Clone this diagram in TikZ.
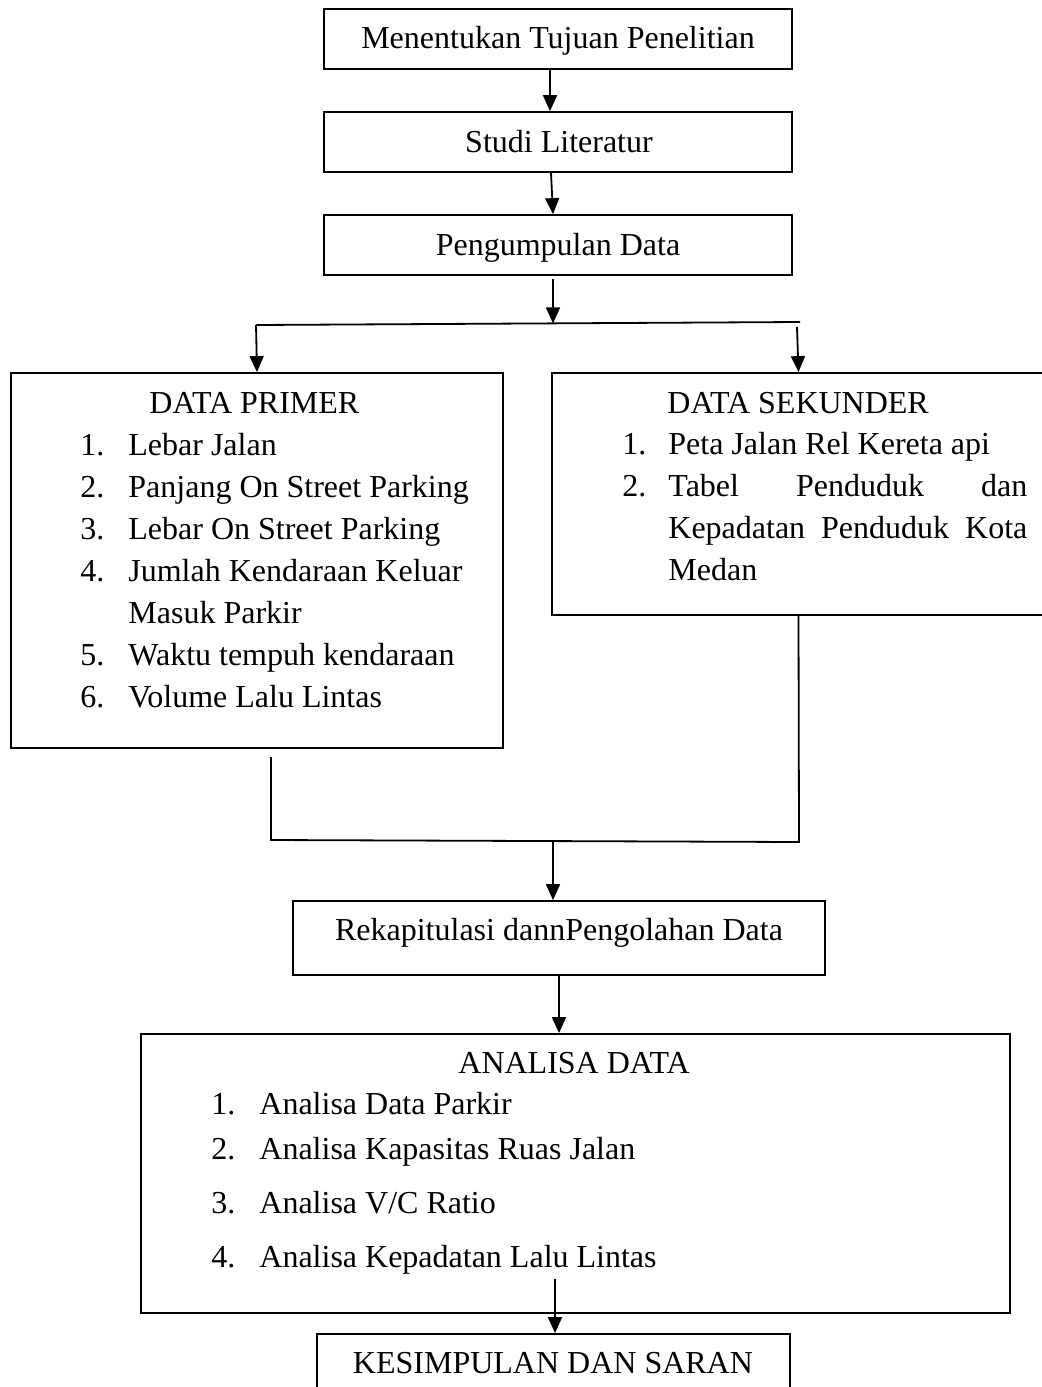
\documentclass[tikz,border=0pt]{standalone}
\usepackage{fontspec}
\setmainfont{Liberation Serif}
\usetikzlibrary{arrows.meta,fit}
\tikzset{
  boxnode/.style={draw=black, line width=0.9pt, inner sep=0pt, rectangle, fit={#1}},
  txt/.style={inner sep=0pt, font=\fontsize{16pt}{21pt}\selectfont},
  conn/.style={draw=black, line width=0.9pt},
  arr/.style={conn, -{Triangle[length=8pt,width=7pt]}}
}
\begin{document}
\begin{tikzpicture}[x=0.5pt,y=-0.5pt]
\useasboundingbox (0,0) rectangle (1041,1387);
% boxes
\node[boxnode={(324,9) (792,69)}] (b1) {};
\node[boxnode={(324,112) (792,172)}] (b2) {};
\node[boxnode={(324,215) (792,275)}] (b3) {};
\node[boxnode={(11,373) (503,748)}] (prim) {};
\node[boxnode={(552,373) (1045,615)}] (sek) {};
\node[boxnode={(293,901) (825,975)}] (rek) {};
\node[boxnode={(141,1034) (1010,1313)}] (ana) {};
\node[boxnode={(317,1334) (790,1400)}] (kes) {};
% texts
\node[txt, anchor=base] (t1) at (558,48) {Menentukan Tujuan Penelitian};
\node[txt, anchor=base] (t2) at (559,152) {Studi Literatur};
\node[txt, anchor=base] (t3) at (558,255) {Pengumpulan Data};
\node[txt, anchor=base west] (pt) at (149,413) {DATA PRIMER};
\node[txt, anchor=base west] (pn1) at (80,455) {1.};
\node[txt, anchor=base west] (pi1) at (128,455) {Lebar Jalan};
\node[txt, anchor=base west] (pn2) at (80,497) {2.};
\node[txt, anchor=base west] (pi2) at (128,497) {Panjang On Street Parking};
\node[txt, anchor=base west] (pn3) at (80,539) {3.};
\node[txt, anchor=base west] (pi3) at (128,539) {Lebar On Street Parking};
\node[txt, anchor=base west] (pn4) at (80,581) {4.};
\node[txt, anchor=base west] (pi4) at (128,581) {Jumlah Kendaraan Keluar};
\node[txt, anchor=base west] (pi4b) at (128,623) {Masuk Parkir};
\node[txt, anchor=base west] (pn5) at (80,665) {5.};
\node[txt, anchor=base west] (pi5) at (128,665) {Waktu tempuh kendaraan};
\node[txt, anchor=base west] (pn6) at (80,707) {6.};
\node[txt, anchor=base west] (pi6) at (128,707) {Volume Lalu Lintas};
\node[txt, anchor=base west] (st) at (667,413) {DATA SEKUNDER};
\node[txt, anchor=base west] (sn1) at (622,454) {1.};
\node[txt, anchor=base west] (si1) at (668,454) {Peta Jalan Rel Kereta api};
\node[txt, anchor=base west] (sn2) at (622,496) {2.};
\node[txt, anchor=base west] (si2) at (668,496) {\makebox[179.5pt][s]{Tabel Penduduk dan}};
\node[txt, anchor=base west] (si2b) at (668,538) {\makebox[179.5pt][s]{Kepadatan Penduduk Kota}};
\node[txt, anchor=base west] (si2c) at (668,580) {Medan};
\node[txt, anchor=base] (tr) at (559,940) {Rekapitulasi dannPengolahan Data};
\node[txt, anchor=base west] (at) at (458,1073) {ANALISA DATA};
\node[txt, anchor=base west] (an1) at (211,1114) {1.};
\node[txt, anchor=base west] (ai1) at (259,1114) {Analisa Data Parkir};
\node[txt, anchor=base west] (an2) at (211,1159) {2.};
\node[txt, anchor=base west] (ai2) at (259,1159) {Analisa Kapasitas Ruas Jalan};
\node[txt, anchor=base west] (an3) at (211,1213) {3.};
\node[txt, anchor=base west] (ai3) at (259,1213) {Analisa V/C Ratio};
\node[txt, anchor=base west] (an4) at (211,1267) {4.};
\node[txt, anchor=base west] (ai4) at (259,1267) {Analisa Kepadatan Lalu Lintas};
\node[txt, anchor=base] (tk) at (553,1373) {KESIMPULAN DAN SARAN};
% connector points
\coordinate (a3s) at (553,279);
\coordinate (brl) at (256,325);
\coordinate (brr) at (800,322);
\coordinate (brj) at (553,323.4);
\coordinate (brrs) at (797,327);
\coordinate (pl) at (271,757);
\coordinate (ml) at (271,840);
\coordinate (mr) at (799,842);
\coordinate (mj) at (553,841.5);
\coordinate (ak) at (555,1279);
% connectors
\draw[arr] ([xshift=-4pt]b1.south) -- ([xshift=-4pt]b2.north);
\draw[arr] ([xshift=-3.5pt]b2.south) -- ([xshift=-2.5pt]b3.north);
\draw[arr] (a3s) -- (brj);
\draw[conn] (brl) -- (brr);
\draw[arr] (brl) -- (prim.north);
\draw[arr] (brrs) -- (sek.north);
\draw[conn] (pl) -- (ml) -- (mr) -- (sek.south);
\draw[arr] (mj) -- (mj |- rek.north);
\draw[arr] (rek.south) -- (rek.south |- ana.north);
\draw[arr] (ak) -- (ak |- kes.north);
\end{tikzpicture}
\end{document}
